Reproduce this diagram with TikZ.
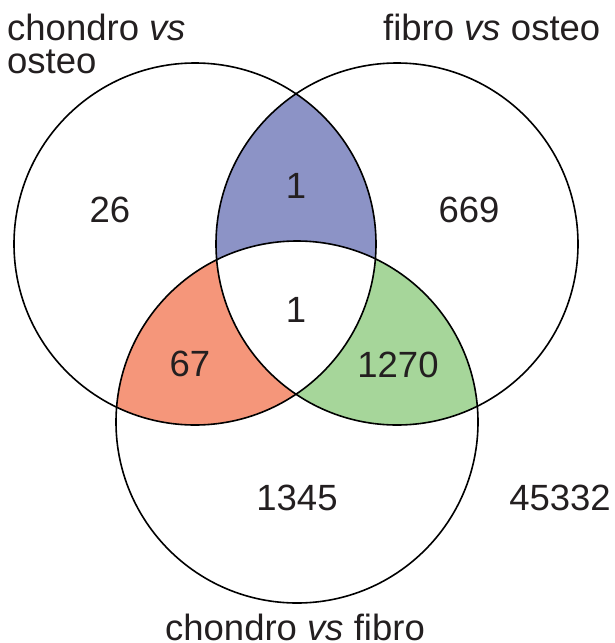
\documentclass[tikz,border=0pt]{standalone}
\usepackage{fontspec}
\setmainfont{Liberation Sans}
\definecolor{txt}{HTML}{231F20}
\definecolor{blueR}{HTML}{8C93C6}
\definecolor{orangeR}{HTML}{F5967A}
\definecolor{greenR}{HTML}{A6D69A}
\begin{document}
\begin{tikzpicture}[x=1pt,y=1pt,
  num/.style={inner sep=0pt,text=txt,font=\fontsize{36.5}{32}\selectfont},
  lab/.style={inner sep=0pt,text=txt,font=\fontsize{36.5}{32}\selectfont},
  ring/.style={draw=black,line width=1.6pt}]
\useasboundingbox (0,0) rectangle (614,-643);
\coordinate (A) at (195,-244);
\coordinate (B) at (397,-244);
\coordinate (C) at (297,-422);
\def\rr{181}
\begin{scope}
  \clip (A) circle (\rr);
  \fill[blueR] (B) circle (\rr);
\end{scope}
\begin{scope}
  \clip (A) circle (\rr);
  \fill[orangeR] (C) circle (\rr);
\end{scope}
\begin{scope}
  \clip (B) circle (\rr);
  \fill[greenR] (C) circle (\rr);
\end{scope}
\begin{scope}
  \clip (A) circle (\rr);
  \clip (B) circle (\rr);
  \fill[white] (C) circle (\rr);
\end{scope}
\draw[ring] (A) circle (\rr);
\draw[ring] (B) circle (\rr);
\draw[ring] (C) circle (\rr);
% numbers
\node[num] (n26) at (110,-210) {26};
\node[num] (nab) at (296,-186) {1};
\node[num] (n669) at (469,-210) {669};
\node[num] (nabc) at (296,-310) {1};
\node[num] (n67) at (190,-364) {67};
\node[num] (n1270) at (398,-365) {1270};
\node[num] (n1345) at (297,-498) {1345};
\node[num] (nout) at (560,-498) {45332};
% labels
\node[lab,anchor=base west] (la1) at (7,-40) {chondro \textit{vs}};
\node[lab,anchor=base west] (la2) at (7,-73) {osteo};
\node[lab,anchor=base west] (lb) at (383,-40) {fibro \textit{vs} osteo};
\node[lab,anchor=base] (lc) at (295,-640) {chondro \textit{vs} fibro};
\end{tikzpicture}
\end{document}
